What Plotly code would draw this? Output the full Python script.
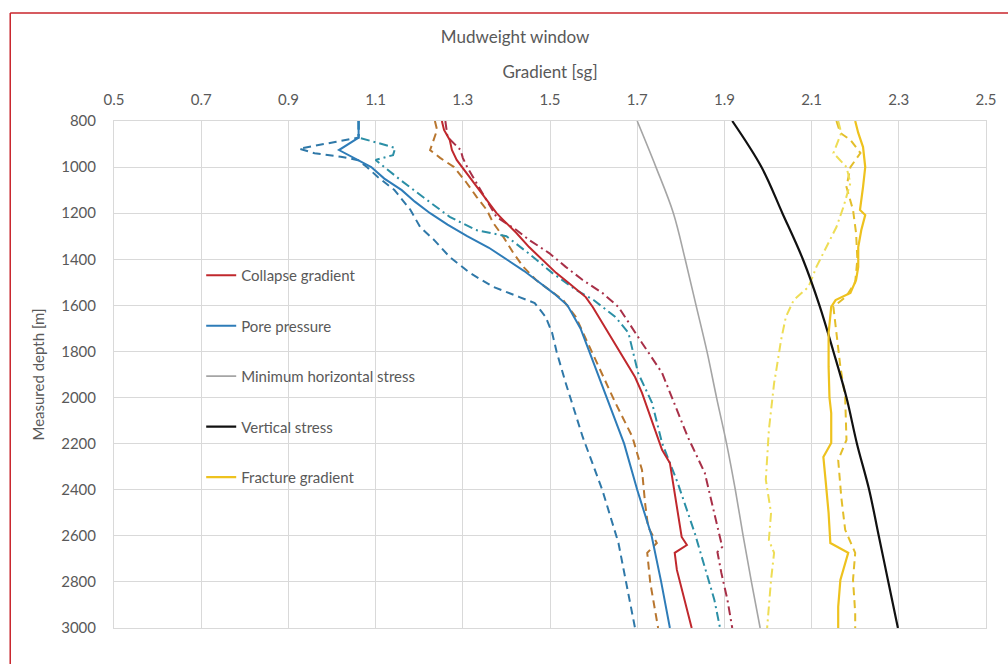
import plotly.graph_objects as go

# ---------------- data ----------------
# Collapse gradient
cg_depth = [800, 839, 882, 926, 969, 1026, 1086, 1143, 1199, 1230, 1286, 1347, 1403, 1459, 1503, 1564, 1607,
            1720, 1911, 1980, 2227, 2284, 2371, 2488, 2605, 2640, 2674, 2748, 2878, 3000]
cg_val = [1.252, 1.257, 1.270, 1.275, 1.286, 1.309, 1.332, 1.355, 1.377, 1.393, 1.423, 1.452, 1.484, 1.514, 1.543,
          1.582, 1.598, 1.634, 1.695, 1.711, 1.757, 1.775, 1.782, 1.791, 1.802, 1.814, 1.786, 1.791, 1.809, 1.825]
cg_lo_depth = [800, 839, 926, 960, 1000, 1069, 1130, 1186, 1243, 1303, 1373, 1433, 1490, 1533, 1577, 1650, 1837,
               2023, 2171, 2314, 2457, 2561, 2631, 2674, 2804, 3000]
cg_lo_val = [1.236, 1.241, 1.225, 1.248, 1.280, 1.309, 1.332, 1.355, 1.370, 1.393, 1.416, 1.439, 1.468, 1.498, 1.530,
             1.559, 1.605, 1.650, 1.689, 1.711, 1.718, 1.725, 1.745, 1.723, 1.730, 1.748]
cg_hi_depth = [800, 870, 926, 960, 1000, 1069, 1216, 1273, 1316, 1373, 1433, 1490, 1546, 1607, 1720, 1763, 1893,
               2010, 2171, 2327, 2444, 2561, 2648, 2670, 2761, 2878, 3000]
cg_hi_val = [1.260, 1.265, 1.295, 1.300, 1.310, 1.332, 1.377, 1.423, 1.452, 1.498, 1.536, 1.575, 1.620, 1.657, 1.695,
             1.711, 1.757, 1.782, 1.816, 1.855, 1.870, 1.884, 1.895, 1.884, 1.893, 1.907, 1.918]

# Pore pressure
pp_depth = [800, 872, 926, 967, 1000, 1050, 1100, 1150, 1200, 1250, 1300, 1350, 1400, 1450, 1500, 1550, 1600,
            1700, 1800, 1900, 2000, 2200, 2400, 2600, 2800, 3000]
pp_val = [1.061, 1.061, 1.016, 1.058, 1.090, 1.120, 1.160, 1.190, 1.225, 1.265, 1.310, 1.360, 1.400, 1.440, 1.475,
          1.510, 1.540, 1.570, 1.590, 1.610, 1.630, 1.670, 1.700, 1.733, 1.755, 1.775]
pp_lo_depth = [800, 872, 890, 920, 940, 955, 970, 1000, 1043, 1099, 1186, 1260, 1316, 1390, 1459, 1520, 1564,
               1590, 1650, 1720, 1800, 1937, 2171, 2401, 2631, 2800, 3000]
pp_lo_val = [1.061, 1.061, 1.010, 0.925, 0.960, 1.020, 1.060, 1.080, 1.105, 1.143, 1.180, 1.202, 1.234, 1.270, 1.316,
             1.370, 1.430, 1.465, 1.490, 1.505, 1.515, 1.536, 1.575, 1.620, 1.657, 1.675, 1.695]
pp_hi_depth = [800, 872, 895, 917, 948, 969, 1000, 1056, 1143, 1216, 1273, 1300, 1373, 1459, 1533, 1577, 1650,
               1720, 1893, 2023, 2197, 2371, 2588, 2735, 2878, 3000]
pp_hi_val = [1.061, 1.061, 1.105, 1.145, 1.140, 1.100, 1.120, 1.157, 1.218, 1.270, 1.330, 1.400, 1.450, 1.505, 1.560,
             1.600, 1.650, 1.680, 1.702, 1.734, 1.757, 1.793, 1.832, 1.855, 1.877, 1.890]

# Minimum horizontal stress
sh_depth = [800, 1000, 1200, 1400, 1600, 1800, 2000, 2200, 2400, 2600, 2800, 3000]
sh_val = [1.700, 1.743, 1.783, 1.810, 1.835, 1.860, 1.882, 1.905, 1.925, 1.943, 1.962, 1.982]

# Vertical stress
sv_depth = [800, 1000, 1200, 1400, 1600, 1800, 2000, 2200, 2400, 2600, 2800, 3000]
sv_val = [1.918, 1.985, 2.033, 2.080, 2.118, 2.150, 2.180, 2.204, 2.232, 2.254, 2.276, 2.298]

# Fracture gradient
fg_depth = [800, 852, 913, 1000, 1086, 1186, 1208, 1273, 1347, 1433, 1490, 1546, 1577, 1607, 1720, 1867, 2000,
            2067, 2197, 2258, 2357, 2501, 2631, 2674, 2791, 2908, 3000]
fg_val = [2.200, 2.207, 2.218, 2.223, 2.218, 2.211, 2.223, 2.214, 2.207, 2.207, 2.202, 2.189, 2.155, 2.145, 2.139,
          2.139, 2.141, 2.145, 2.145, 2.127, 2.132, 2.139, 2.143, 2.184, 2.166, 2.161, 2.161]
fg_hi_depth = [800, 852, 882, 939, 1000, 1086, 1186, 1286, 1400, 1500, 1560, 1607, 1720, 1867, 1997, 2184, 2271,
               2431, 2574, 2674, 2791, 2934, 3000]
fg_hi_val = [2.157, 2.166, 2.189, 2.212, 2.189, 2.180, 2.195, 2.202, 2.205, 2.200, 2.180, 2.150, 2.157, 2.166, 2.177,
             2.180, 2.161, 2.168, 2.177, 2.200, 2.195, 2.200, 2.200]
fg_lo_depth = [800, 852, 939, 1000, 1069, 1173, 1260, 1347, 1433, 1520, 1577, 1650, 1750, 1893, 1937, 2141, 2357,
               2501, 2618, 2674, 2791, 3000]
fg_lo_val = [2.161, 2.168, 2.150, 2.180, 2.189, 2.173, 2.157, 2.134, 2.111, 2.093, 2.059, 2.041, 2.030, 2.018, 2.014,
             2.002, 1.995, 2.007, 2.002, 2.014, 2.007, 1.998]

x_ticks = [0.5, 0.7, 0.9, 1.1, 1.3, 1.5, 1.7, 1.9, 2.1, 2.3, 2.5]
y_ticks = [800, 1000, 1200, 1400, 1600, 1800, 2000, 2200, 2400, 2600, 2800, 3000]

FONT = "Lato"
TXT = "#595959"
DASH = "8px,5px"
DASHDOT = "9px,4px,2px,4px"

fig = go.Figure()

def add(x, y, color, width=2.0, dash="solid", name=None, legend=False, shape="linear"):
    fig.add_trace(go.Scatter(
        x=x, y=y, mode="lines", name=name, showlegend=legend,
        legendgroup=name if legend else None,
        line=dict(color=color, width=width, dash=dash, shape=shape),
        hoverinfo="skip"))

# non-legend bounds first
add(cg_lo_val, cg_lo_depth, "#B8762F", 2.0, DASH)
add(cg_hi_val, cg_hi_depth, "#A83048", 2.0, DASHDOT)
add(pp_lo_val, pp_lo_depth, "#2F78A8", 2.0, DASH)
add(pp_hi_val, pp_hi_depth, "#2B8FA6", 2.0, DASHDOT)
add(fg_hi_val, fg_hi_depth, "#E3BE2A", 2.0, DASH)
add(fg_lo_val, fg_lo_depth, "#EEDD55", 2.0, DASHDOT)

# legend traces
add(cg_val, cg_depth, "#C0282D", 2.0, name="Collapse gradient", legend=True)
add(pp_val, pp_depth, "#2E7CB8", 2.0, name="Pore pressure", legend=True)
add(sh_val, sh_depth, "#A5A5A5", 1.6, name="Minimum horizontal stress", legend=True, shape="spline")
add(sv_val, sv_depth, "#111111", 2.2, name="Vertical stress", legend=True, shape="spline")
add(fg_val, fg_depth, "#EEC21E", 2.2, name="Fracture gradient", legend=True)

fig.update_layout(
    width=1008, height=664,
    margin=dict(l=114, r=14, t=121, b=36),
    paper_bgcolor="white", plot_bgcolor="white",
    font=dict(family=FONT, size=15, color=TXT),
    title=dict(text="Mudweight window", x=0.511, xref="container", xanchor="center",
               y=1 - 37 / 664, yref="container", yanchor="middle",
               font=dict(family=FONT, size=17, color=TXT)),
    legend=dict(x=0.10, y=0.728, xanchor="left", yanchor="top",
                bgcolor="rgba(0,0,0,0)", borderwidth=0, tracegroupgap=28,
                font=dict(family=FONT, size=15, color=TXT), traceorder="grouped"),
    xaxis=dict(side="top", range=[0.5, 2.5], tickvals=x_ticks, ticktext=[str(v) for v in x_ticks],
               showgrid=True, gridcolor="#D9D9D9", gridwidth=1, zeroline=False,
               showline=True, linecolor="#D9D9D9", mirror=True, ticks="",
               ticklabelstandoff=9, tickfont=dict(size=15),
               title=dict(text="Gradient [sg]", standoff=7, font=dict(size=17, color=TXT))),
    yaxis=dict(range=[3000, 800], tickvals=y_ticks, showgrid=True, gridcolor="#D9D9D9",
               gridwidth=1, zeroline=False, showline=True, linecolor="#D9D9D9", mirror=True,
               ticks="", ticklabelstandoff=14, tickfont=dict(size=15),
               title=dict(text="Measured depth [m]", standoff=12, font=dict(size=15, color=TXT))),
    shapes=[
        dict(type="rect", xref="paper", yref="paper", x0=0.094, x1=0.359, y0=0.252, y1=0.746,
             fillcolor="white", line=dict(width=0), layer="between"),
        dict(type="line", xref="paper", yref="paper", x0=-0.119, x1=1.05, y0=1.213, y1=1.213,
             line=dict(color="#C8242B", width=1.5)),
        dict(type="line", xref="paper", yref="paper", x0=-0.119, x1=-0.119, y0=1.213, y1=-0.1,
             line=dict(color="#C8242B", width=1.5)),
    ],
)

fig.write_html("out.html", config={"displayModeBar": False},
               post_script="document.body.style.margin='0';")
